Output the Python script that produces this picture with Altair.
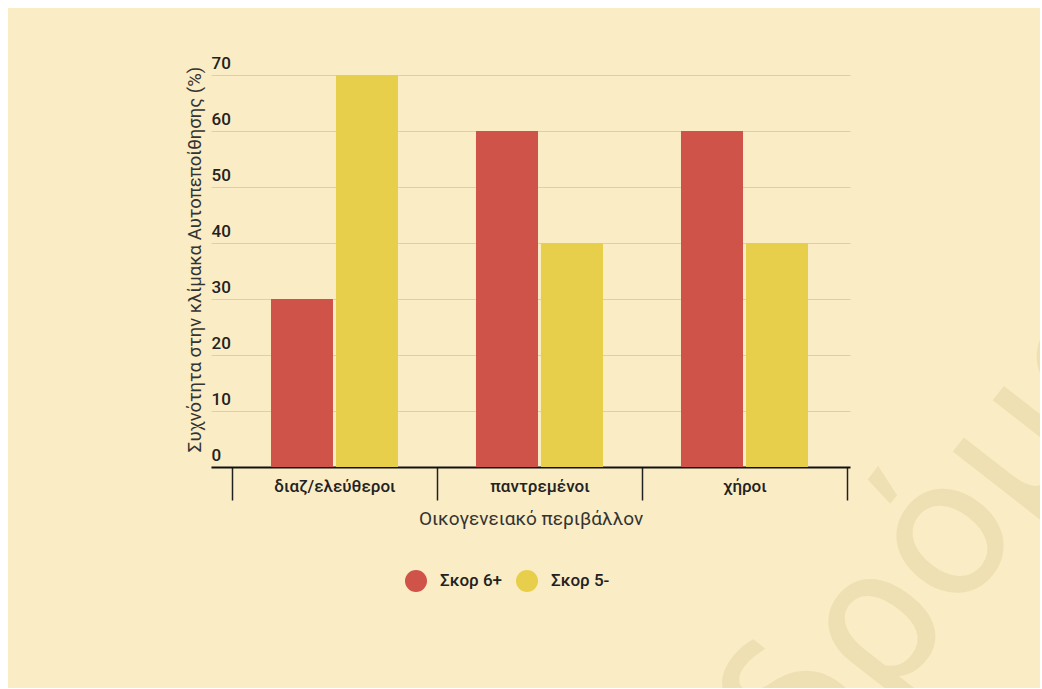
import altair as alt
import pandas as pd

categories = ["διαζ/ελεύθεροι", "παντρεμένοι", "χήροι"]
series = ["Σκορ 6+", "Σκορ 5-"]
score_6plus = [30, 60, 60]
score_5minus = [70, 40, 40]
y_ticks = [0, 10, 20, 30, 40, 50, 60, 70]
colors = ["#D0534A", "#E8CF4B"]

rows = []
for c, a, b in zip(categories, score_6plus, score_5minus):
    rows.append({"cat": c, "series": series[0], "value": a})
    rows.append({"cat": c, "series": series[1], "value": b})
df = pd.DataFrame(rows)

BG = "#FAECC4"
FONT = "Roboto"
W, H = 639, 392
PAD = {"left": 211, "top": 75, "right": 192, "bottom": 222}

bars = alt.Chart(df).mark_bar().encode(
    x=alt.X(
        "cat:N", sort=categories,
        scale=alt.Scale(paddingInner=0, paddingOuter=0.0585, align=0.875),
        axis=alt.Axis(
            title="Οικογενειακό περιβάλλον", labelAngle=0, tickBand="extent",
            ticks=True, tickSize=33, tickWidth=1.5, tickColor="#222222",
            domainColor="#111111", domainWidth=2, labelPadding=-22,
            labelBaseline="top", labelFontSize=17, labelFontWeight=500,
            labelColor="#222222", labelFont=FONT, titleFont=FONT,
            titleFontSize=19, titleFontWeight="normal", titleColor="#333333",
            titlePadding=9, grid=False,
        ),
    ),
    xOffset=alt.XOffset("series:N", sort=series,
                        scale=alt.Scale(paddingInner=0.046, paddingOuter=0.6)),
    y=alt.Y(
        "value:Q", scale=alt.Scale(domain=[0, 70]),
        axis=alt.Axis(
            values=y_ticks, title="Συχνότητα στην κλίμακα Αυτοπεποίθησης (%)",
            domain=False, ticks=False, labelAlign="left", labelBaseline="bottom",
            labelPadding=0, labelOffset=-3, labelFontSize=17, labelFontWeight=500,
            labelColor="#222222", labelFont=FONT, titleFont=FONT,
            titleFontSize=18.5, titleFontWeight="normal", titleColor="#333333",
            titlePadding=7, titleY=184, grid=True, gridColor="#DCD0A8", gridWidth=1,
        ),
    ),
    color=alt.Color(
        "series:N", sort=series,
        scale=alt.Scale(domain=series, range=colors),
        legend=alt.Legend(
            title=None, orient="none", legendX=194, legendY=495,
            direction="horizontal", symbolType="circle", symbolSize=484,
            symbolStrokeWidth=0, labelFont=FONT, labelFontSize=17,
            labelFontWeight=500, labelColor="#222222", labelOffset=13,
            columnPadding=13, padding=0,
        ),
    ),
)

watermark = alt.Chart().mark_text(
    text="δρόμοι", font=FONT, fontSize=200, color="#EFE0B4",
    align="left", baseline="alphabetic", angle=308,
).encode(x=alt.value(606), y=alt.value(722))

frame_color = "white"
frame_left = alt.Chart().mark_rect(color=frame_color).encode(
    x=alt.value(-211), x2=alt.value(-203), y=alt.value(-75), y2=alt.value(H + 222))
frame_top = alt.Chart().mark_rect(color=frame_color).encode(
    x=alt.value(-211), x2=alt.value(W + 192), y=alt.value(-75), y2=alt.value(-67))
frame_right = alt.Chart().mark_rect(color=frame_color).encode(
    x=alt.value(W + 190), x2=alt.value(W + 192), y=alt.value(-75), y2=alt.value(H + 222))
frame_bottom = alt.Chart().mark_rect(color=frame_color).encode(
    x=alt.value(-211), x2=alt.value(W + 192), y=alt.value(H + 221), y2=alt.value(H + 222))

chart = alt.layer(
    watermark, bars, frame_left, frame_top, frame_right, frame_bottom
).properties(
    width=W, height=H,
    autosize=alt.AutoSizeParams(type="none"),
    padding=PAD, background=BG,
).configure_view(stroke=None)

chart.save("out.html", embed_options={"renderer": "svg", "actions": False})
